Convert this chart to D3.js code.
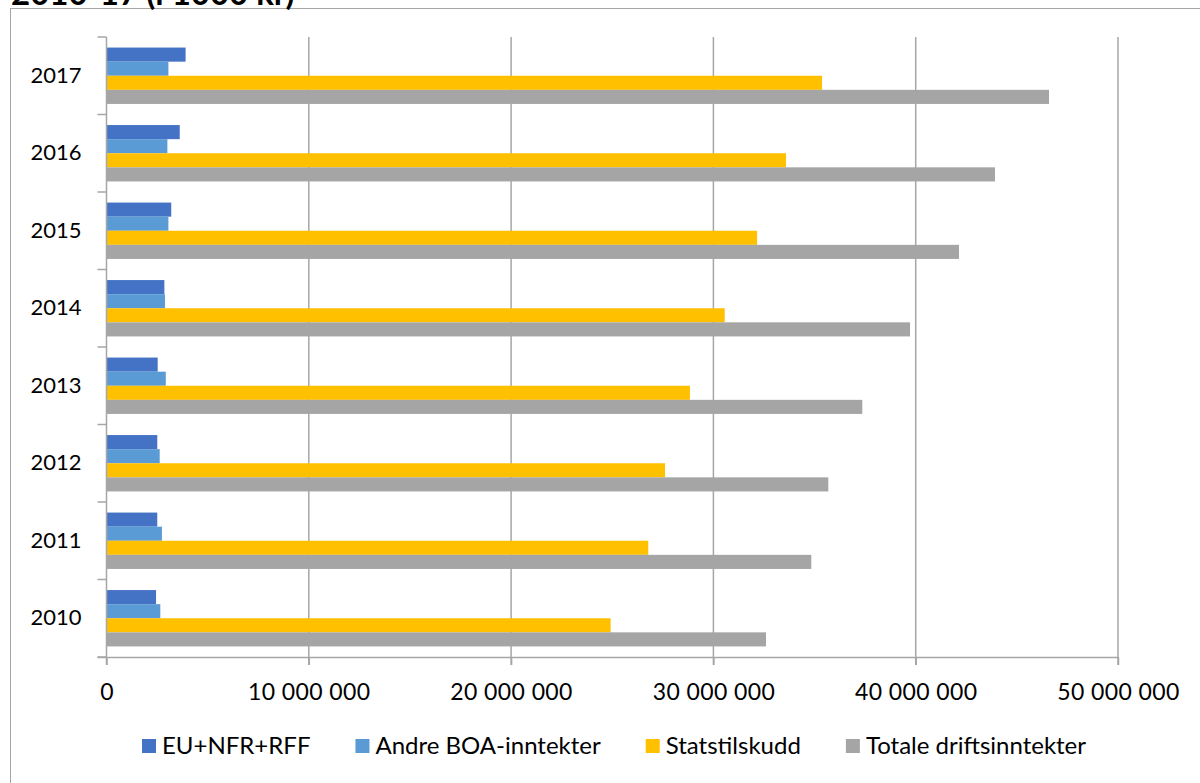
<!DOCTYPE html>
<html>
<head>
<meta charset="utf-8">
<script src="https://cdn.jsdelivr.net/npm/d3@7"></script>
<style>
  html, body { margin: 0; padding: 0; background: #fff; }
  svg { display: block; }
  text { font-family: Lato, "Open Sans", sans-serif; fill: #000; }
</style>
</head>
<body>
<svg id="chart" width="1200" height="783"></svg>
<script>
const title = "2010-17 (i 1000 kr)";
const years = ["2010", "2011", "2012", "2013", "2014", "2015", "2016", "2017"];
const seriesNames = ["EU+NFR+RFF", "Andre BOA-inntekter", "Statstilskudd", "Totale driftsinntekter"];
const seriesColors = ["#4472C4", "#5B9BD5", "#FFC000", "#A5A5A5"];
const euNfrRff = [2450000, 2510000, 2510000, 2530000, 2860000, 3200000, 3620000, 3910000];
const andreBoa = [2660000, 2740000, 2630000, 2930000, 2890000, 3060000, 3010000, 3060000];
const statstilskudd = [24920000, 26780000, 27610000, 28840000, 30560000, 32160000, 33590000, 35370000];
const totale = [32600000, 34840000, 35680000, 37360000, 39720000, 42140000, 43920000, 46590000];
const xTickValues = [0, 10000000, 20000000, 30000000, 40000000, 50000000];

const seriesValues = [euNfrRff, andreBoa, statstilskudd, totale];

const svg = d3.select("#chart");

// outer frame
svg.append("rect")
  .attr("x", 10.5).attr("y", 8.5)
  .attr("width", 1250).attr("height", 900)
  .attr("fill", "none").attr("stroke", "#a6a6a6").attr("stroke-width", 1);

// partially visible title (cut off at the top edge, as in the reference)
svg.append("text")
  .attr("x", 11).attr("y", 5)
  .attr("font-size", 33).attr("font-weight", "bold")
  .text(title);

const pLeft = 106.5, pRight = 1118, pTop = 37, pBottom = 657;

const x = d3.scaleLinear().domain([0, 50000000]).range([pLeft, pRight]);
const y0 = d3.scaleBand().domain(years.slice().reverse()).range([pTop, pBottom]).padding(0);
const y1 = d3.scaleBand().domain(seriesNames).range([0, y0.bandwidth()]).paddingInner(0).paddingOuter(0.75);

const fmt = v => d3.format(",")(v).replace(/,/g, " ");

// gridlines
svg.append("g").selectAll("line")
  .data(xTickValues.filter(v => v > 0))
  .join("line")
  .attr("x1", d => x(d)).attr("x2", d => x(d))
  .attr("y1", pTop).attr("y2", pBottom + 8)
  .attr("stroke", "#a6a6a6").attr("stroke-width", 1.5);

// bars
const data = [];
years.forEach((yr, i) => {
  seriesNames.forEach((s, j) => {
    data.push({ year: yr, series: s, value: seriesValues[j][i], color: seriesColors[j] });
  });
});

svg.append("g").selectAll("rect")
  .data(data)
  .join("rect")
  .attr("x", x(0))
  .attr("y", d => y0(d.year) + y1(d.series))
  .attr("width", d => x(d.value) - x(0))
  .attr("height", y1.bandwidth())
  .attr("fill", d => d.color);

// x axis
const xAxis = svg.append("g")
  .attr("transform", `translate(0,${pBottom})`)
  .call(d3.axisBottom(x).tickValues(xTickValues).tickFormat(fmt).tickSize(8).tickSizeOuter(0));
xAxis.select(".domain").attr("stroke", "#a6a6a6").attr("stroke-width", 1.5)
  .attr("d", `M${pLeft - 9},0.5H${pRight}`);
xAxis.selectAll(".tick line").attr("stroke", "#a6a6a6").attr("stroke-width", 1.5);
xAxis.selectAll(".tick text")
  .attr("font-family", "Lato, sans-serif").attr("font-size", 23).attr("fill", "#000")
  .attr("letter-spacing", 0.4)
  .attr("dy", 0).attr("y", 43);

// y axis
const yAxis = svg.append("g")
  .attr("transform", `translate(${pLeft},0)`)
  .call(d3.axisLeft(y0).tickSize(0).tickPadding(25));
yAxis.select(".domain").attr("stroke", "#a6a6a6").attr("stroke-width", 1.5)
  .attr("d", `M0,${pTop}V${pBottom + 8}`);
yAxis.selectAll(".tick text")
  .attr("font-family", "Lato, sans-serif").attr("font-size", 22).attr("fill", "#000");

// y boundary ticks
const boundaries = years.map(yr => y0(yr)).concat([pBottom]);
svg.append("g").selectAll("line")
  .data(boundaries)
  .join("line")
  .attr("x1", pLeft - 9).attr("x2", pLeft)
  .attr("y1", d => d).attr("y2", d => d)
  .attr("stroke", "#a6a6a6").attr("stroke-width", 1.5);

// legend
const legend = svg.append("g").attr("transform", "translate(0,746)");
let lx = 142;
seriesNames.forEach((s, j) => {
  const g = legend.append("g").attr("transform", `translate(${lx},0)`);
  g.append("rect").attr("x", 0).attr("y", -7).attr("width", 14).attr("height", 14).attr("fill", seriesColors[j]);
  const t = g.append("text").attr("x", 20).attr("y", 0).attr("dy", "0.35em")
    .attr("font-size", 24).text(s);
  const w = t.node().getComputedTextLength();
  lx += 20 + w + 45;
});
</script>
</body>
</html>
